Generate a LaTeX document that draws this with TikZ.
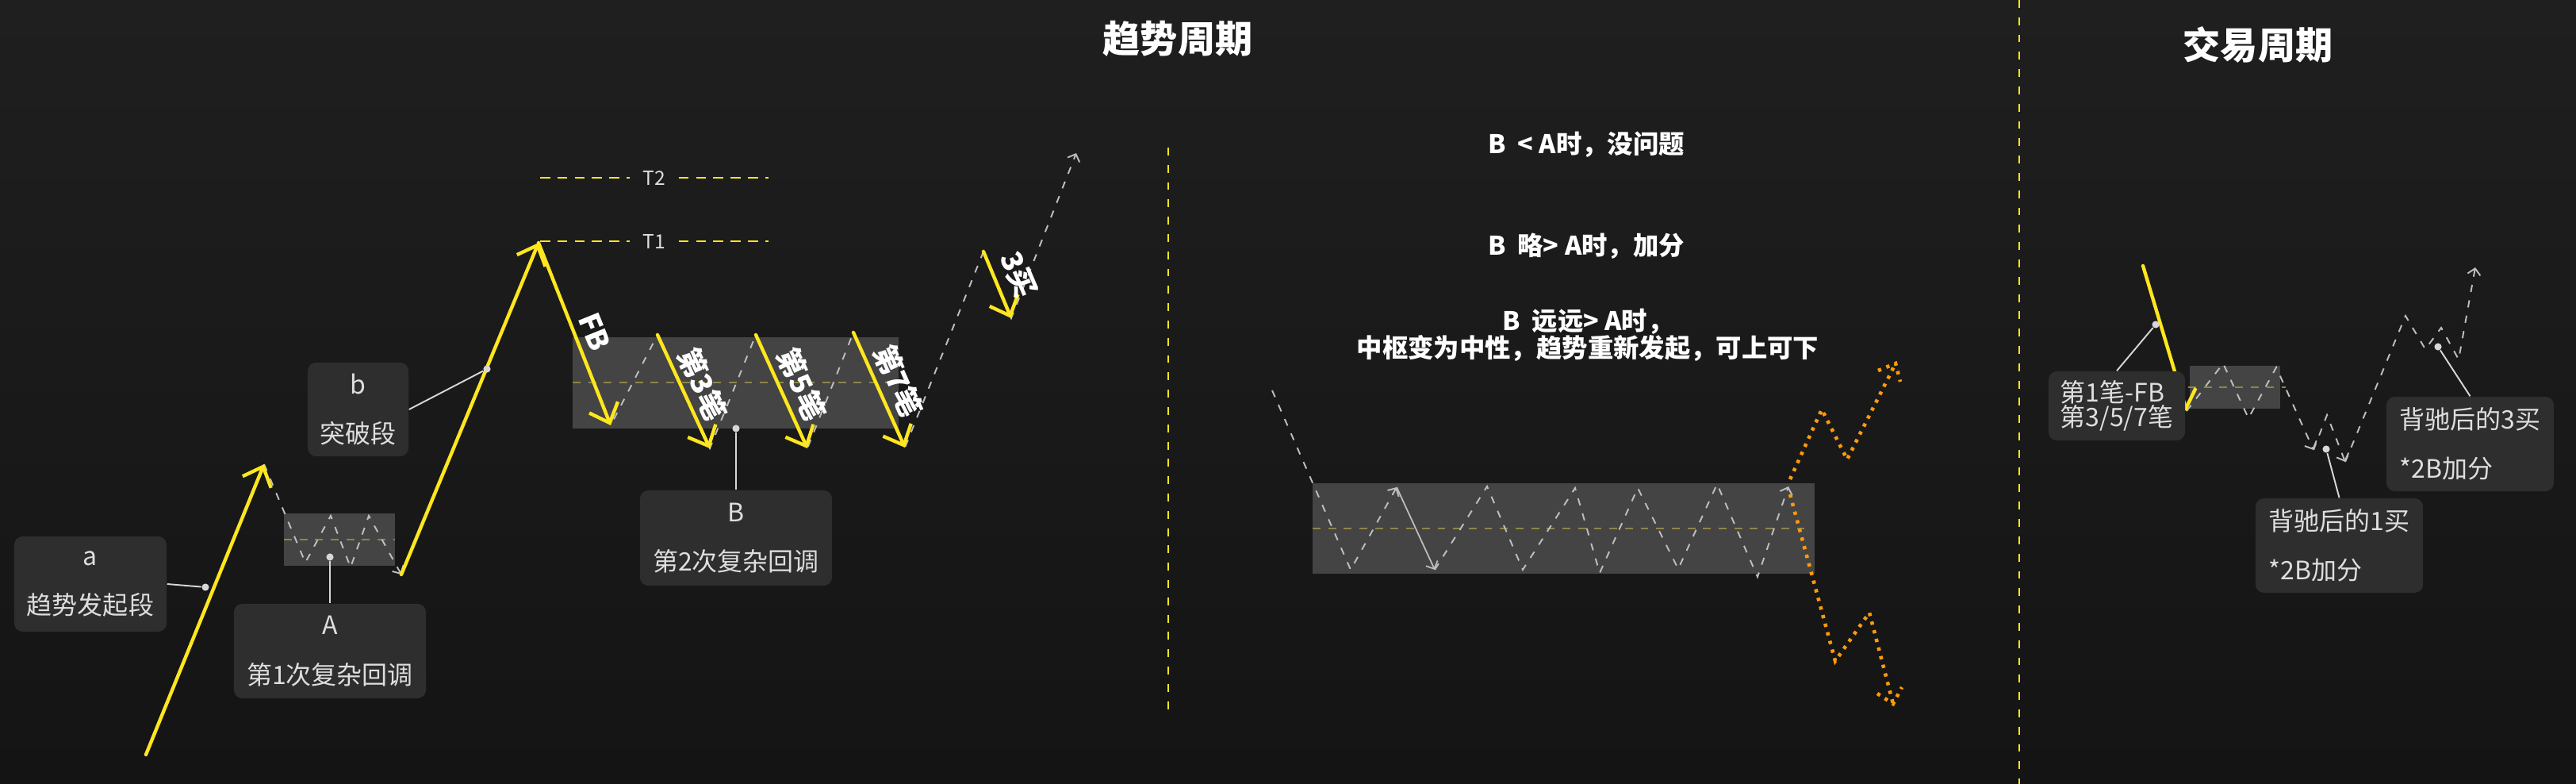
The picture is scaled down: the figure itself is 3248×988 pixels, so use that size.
\documentclass[tikz,border=0pt]{standalone}
\usepackage{fontspec}
\setmainfont{Noto Sans CJK SC}
\usepackage{xcolor}
\usepackage{tikz}
\usetikzlibrary{
  positioning,
  arrows.meta,
  calc
}
\definecolor{bgtop}{RGB}{31,31,31}
\definecolor{bgbot}{RGB}{20,20,20}
\definecolor{trendyellow}{RGB}{255,230,30}
\definecolor{hubgray}{RGB}{68,68,68}
\definecolor{tagfill}{RGB}{46,46,46}
\definecolor{tagtext}{RGB}{222,222,222}
\definecolor{pathgray}{RGB}{190,190,190}
\definecolor{midolive}{RGB}{140,134,72}
\definecolor{dotorange}{RGB}{255,155,10}
\definecolor{knobgray}{RGB}{215,215,215}
\newcommand\tightlines{\lineskiplimit=-5pt\relax}

\begin{document}
\begin{tikzpicture}[
  x=0.01cm, y=-0.01cm,
  >={Straight Barb[length=6pt,width=11pt]},
  % --- chart styles ---
  trend/.style={draw=trendyellow, line width=1.25pt, line cap=round, ->},
  swing/.style={draw=pathgray, line width=0.55pt, dash pattern=on 2.6pt off 3pt},
  swingtip/.style={-{Straight Barb[length=2.2pt,width=4.6pt]}},
  hub/.style={fill=hubgray},
  hubmid/.style={draw=midolive, line width=0.6pt, dash pattern=on 2.8pt off 2.8pt},
  orbit/.style={draw=dotorange, line width=1.3pt, dash pattern=on 1.2pt off 2pt},
  tline/.style={draw=trendyellow, line width=0.6pt, dash pattern=on 3.6pt off 2.6pt},
  divider/.style={draw=trendyellow, line width=0.65pt, dash pattern=on 2.8pt off 3.4pt},
  % --- node styles ---
  tagbox/.style={
    fill=tagfill, rounded corners=3pt, text=tagtext, inner sep=0pt,
    font=\fontsize{9.1}{17.8}\selectfont, align=center
  },
  knob/.style={circle, fill=knobgray, inner sep=0pt, minimum size=2.6pt},
  knobline/.style={draw=knobgray, line width=0.55pt},
  strokelbl/.style={text=white, font=\fontsize{10.4}{11}\selectfont\bfseries, inner sep=0pt},
  cond/.style={text=white, font=\fontsize{9.2}{9.7}\selectfont\bfseries, align=center},
  headline/.style={text=white, font=\fontsize{13.4}{14}\selectfont\bfseries},
  lvllbl/.style={text=tagtext, font=\fontsize{7}{8}\selectfont, inner xsep=4.5pt},
]

% Canvas
\useasboundingbox (0,0) rectangle (3248,988);
\fill[top color=bgtop, bottom color=bgbot] (0,0) rectangle (3248,988);

% Headings
\node[headline] (trendtitle) at (1485,49) {趋势周期};
\node[headline] (tradetitle) at (2847,56) {交易周期};

% Dividers
\coordinate (div1top) at (1473,186);
\coordinate (div1bot) at (1473,895);
\coordinate (div2top) at (2546,0);
\coordinate (div2bot) at (2546,988);
\draw[divider] (div1top) -- (div1bot);
\draw[divider] (div2top) -- (div2bot);

% ─── Hubs ────────────────────────────────────────────────────────────────
\fill[hub] (358,647) rectangle (498,713);
\draw[hubmid] (358,680) -- (498,680);
\fill[hub] (722,425) rectangle (1133,540);
\draw[hubmid] (722,482) -- (1133,482);
\fill[hub] (1655,609) rectangle (2288,723);
\draw[hubmid] (1655,666) -- (2280,666);
\fill[hub] (2761,461) rectangle (2875,515);
\draw[hubmid] (2759,488) -- (2882,488);

% ─── Pivot points ────────────────────────────────────────────────────────
% left trend
\coordinate (a0) at (184,951);
\coordinate (a1) at (333,585);
\coordinate (p1) at (385,709);
\coordinate (p2) at (417,650);
\coordinate (p3) at (442,715);
\coordinate (p4) at (465,650);
\coordinate (b0) at (506,724);
\coordinate (b1) at (679,306);
\coordinate (c1) at (770,536);
\coordinate (c2) at (829,422);
\coordinate (c3) at (895,565);
\coordinate (c4) at (953,422);
\coordinate (c5) at (1018,565);
\coordinate (c6) at (1076,419);
\coordinate (c7) at (1141,564);
\coordinate (c8) at (1240,317);
\coordinate (c9) at (1275,401);
\coordinate (c10) at (1357,193);
% middle range
\coordinate (m0) at (1604,492);
\coordinate (m1) at (1703,718);
\coordinate (m2) at (1761,614);
\coordinate (m3) at (1809,718);
\coordinate (m4) at (1875,613);
\coordinate (m5) at (1920,718);
\coordinate (m6) at (1986,615);
\coordinate (m7) at (2017,722);
\coordinate (m8) at (2065,615);
\coordinate (m9) at (2116,717);
\coordinate (m10) at (2165,610);
\coordinate (m11) at (2216,727);
\coordinate (m12) at (2255,613);
\coordinate (o0) at (2257,604);
\coordinate (o1) at (2297,516);
\coordinate (o2) at (2329,579);
\coordinate (o3) at (2390,458);
\coordinate (o3l) at (2368,467);
\coordinate (o3r) at (2396,481);
\coordinate (l0) at (2257,623);
\coordinate (l1) at (2314,833);
\coordinate (l2) at (2357,772);
\coordinate (l3) at (2387,887);
\coordinate (l3l) at (2367,874);
\coordinate (l3r) at (2398,866);
% trade cycle
\coordinate (r0) at (2702,335);
\coordinate (r1) at (2757,518);
\coordinate (s1) at (2803,458);
\coordinate (s2) at (2835,527);
\coordinate (s3) at (2870,463);
\coordinate (s4) at (2917,567);
\coordinate (s5) at (2934,523);
\coordinate (s6) at (2957,582);
\coordinate (s7) at (3033,398);
\coordinate (s8) at (3058,440);
\coordinate (s9) at (3078,413);
\coordinate (s10) at (3100,453);
\coordinate (s11) at (3121,337);

% ─── Swings ──────────────────────────────────────────────────────────────
\draw[swing, swingtip] (a1) -- (p1) -- (p2) -- (p3) -- (p4) -- (b0);
\draw[swing, swingtip] (b1) -- (c1) -- (c2) -- (c3) -- (c4) -- (c5) -- (c6)
  -- (c7) -- (c8) -- (c9) -- (c10);
\draw[swing, swingtip] (m0) -- (m1) -- (m2);
\draw[draw=pathgray, line width=0.5pt, swingtip] (m2) -- (m3);
\draw[swing, swingtip] (m3) -- (m4) -- (m5) -- (m6) -- (m7) -- (m8) -- (m9)
  -- (m10) -- (m11) -- (m12);
\draw[swing, swingtip] (r1) -- (s1) -- (s2) -- (s3) -- (s4);
\draw[swing, swingtip] (s4) -- (s5) -- (s6);
\draw[swing, swingtip] (s6) -- (s7) -- (s8) -- (s9) -- (s10) -- (s11);

% Breakout paths
\draw[orbit] (o0) -- (o1) -- (o2) -- (o3);
\draw[orbit] (o3l) -- (o3) -- (o3r);
\draw[orbit] (l0) -- (l1) -- (l2) -- (l3);
\draw[orbit] (l3l) -- (l3) -- (l3r);

% ─── Strokes ─────────────────────────────────────────────────────────────
\draw[trend] (a0) -- (a1);
\draw[trend] (b0) -- (b1);
\draw[trend] (b1) -- (c1);
\draw[trend] (c2) -- (c3);
\draw[trend] (c4) -- (c5);
\draw[trend] (c6) -- (c7);
\draw[trend] (c8) -- (c9);
\draw[trend] (r0) -- (r1);

\node[strokelbl, rotate=-68] (lblfb) at (750,418) {FB};
\node[strokelbl, rotate=-65] (lbl3) at (886,484) {第3笔};
\node[strokelbl, rotate=-65] (lbl5) at (1011,484) {第5笔};
\node[strokelbl, rotate=-66] (lbl7) at (1133,480) {第7笔};
\node[strokelbl, rotate=-67] (lblbuy) at (1284,346) {3买};

% Targets
\node[lvllbl] (t2) at (825,224) {T2};
\node[lvllbl] (t1) at (825,304) {T1};
\coordinate (t2l) at (681,224);
\coordinate (t2r) at (969,224);
\coordinate (t1l) at (681,304);
\coordinate (t1r) at (969,304);
\draw[tline] (t2l) -- (t2.west);
\draw[tline] (t2.east) -- (t2r);
\draw[tline] (t1l) -- (t1.west);
\draw[tline] (t1.east) -- (t1r);

% Conditions
\node[cond] (cond1) at (2000,182) {B\ \ < A时，没问题};
\node[cond] (cond2) at (2000,310) {B\ \ 略> A时，加分};
\node[cond] (cond3) at (2002,422) {B\ \ 远远> A时，\\中枢变为中性，趋势重新发起，可上可下};

% ─── Tags ────────────────────────────────────────────────────────────────
\node[knob] (ka) at (259,740) {};
\node[tagbox, minimum width=1.92cm, minimum height=1.2cm] (taga) at (114,736) {a\\趋势发起段};
\draw[knobline] (taga.east) -- (ka);

\node[knob] (kb) at (614,465) {};
\node[tagbox, minimum width=1.27cm, minimum height=1.18cm] (tagb) at (451.5,516) {b\\突破段};
\draw[knobline] (tagb.east) -- (kb);

\node[knob] (kA) at (416,702) {};
\node[tagbox, minimum width=2.42cm, minimum height=1.19cm] (tagA) at (416,820.5) {A\\第1次复杂回调};
\draw[knobline] (kA) -- (tagA.north);

\node[knob] (kB) at (928,540) {};
\node[tagbox, minimum width=2.42cm, minimum height=1.2cm] (tagB) at (928,678) {B\\第2次复杂回调};
\draw[knobline] (kB) -- (tagB.north);

\node[knob] (kfb) at (2718,409) {};
\node[tagbox, minimum width=1.72cm, minimum height=0.87cm, align=left,
  font=\fontsize{9.1}{8.8}\selectfont\tightlines] (tagfb) at (2669,511.5) {第1笔-FB\\第3/5/7笔};
\draw[knobline] (tagfb.north) -- (kfb);

\node[knob] (kbuy1) at (2933,566) {};
\node[tagbox, minimum width=2.11cm, minimum height=1.19cm, align=left] (tagbuy1) at (2949.5,687.5) {背驰后的1买\\*2B加分};
\draw[knobline] (kbuy1) -- (tagbuy1.north);

\node[knob] (kbuy3) at (3074,437) {};
\node[tagbox, minimum width=2.11cm, minimum height=1.19cm, align=left] (tagbuy3) at (3114.5,559.5) {背驰后的3买\\*2B加分};
\draw[knobline] (kbuy3) -- (tagbuy3.north);

\end{tikzpicture}
\end{document}
